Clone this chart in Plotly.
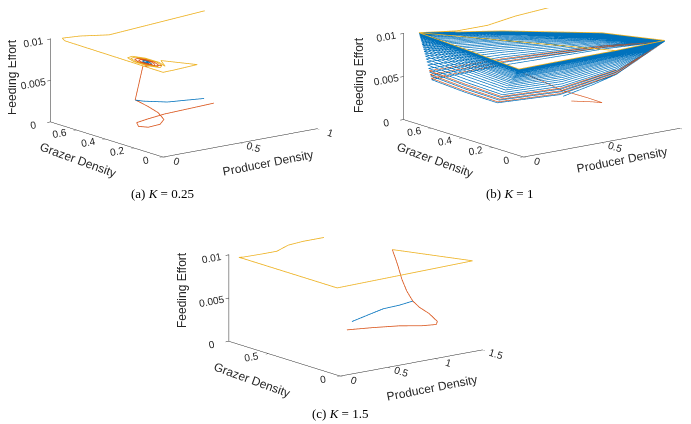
import plotly.graph_objects as go

BLUE = "#0072BD"
ORANGE = "#D95319"
YELLOW = "#EDB120"

# points are (producer, grazer, feeding effort)

# ---- (a) K = 0.25 ----
a_yellow = [(1.0, 0.78, 0.01), (0.65, 0.735, 0.01), (0.295, 0.689, 0.01), (0.16, 0.748, 0.01),
            (0.06, 0.764, 0.01), (0.035, 0.72, 0.01), (0.024, 0.026, 0.01), (0.1, 0.03, 0.01),
            (0.265, 0.046, 0.01), (0.224, 0.254, 0.0095)]
a_blue = [(0.5, 0.25, 0.004), (0.39, 0.248, 0.0042), (0.25, 0.237, 0.0045), (0.13, 0.277, 0.0048),
          (0.09, 0.29, 0.005), (0.14, 0.29, 0.0089)]
a_orange = [(0.75, 0.45, 0.0015), (0.598, 0.471, 0.0012), (0.463, 0.483, 0.001), (0.354, 0.481, 0.0008),
            (0.266, 0.468, 0.0007), (0.236, 0.423, 0.0006), (0.265, 0.386, 0.0006), (0.34, 0.385, 0.0007),
            (0.387, 0.408, 0.001), (0.366, 0.426, 0.0018), (0.296, 0.419, 0.0028), (0.193, 0.376, 0.004),
            (0.09, 0.29, 0.005), (0.14, 0.29, 0.0089)]
# damped cycle around the K = 0.25 equilibrium, outer ring first
a_ring = [(0.2208, 0.222), (0.2469, 0.2927), (0.2456, 0.3852), (0.2175, 0.4454),
          (0.1792, 0.438), (0.1531, 0.3673), (0.1544, 0.2748), (0.1825, 0.2146)]
a_loop1 = [(0.217, 0.240), (0.239, 0.299), (0.238, 0.376), (0.215, 0.426),
           (0.183, 0.420), (0.161, 0.361), (0.162, 0.284), (0.185, 0.234)]
a_loop2 = [(0.213, 0.2625), (0.229, 0.3067), (0.2285, 0.3645), (0.211, 0.402),
           (0.187, 0.3975), (0.171, 0.3567), (0.1715, 0.2955), (0.189, 0.2579)]
a_loop3 = [(0.2087, 0.285), (0.2196, 0.3145), (0.219, 0.353), (0.2073, 0.3781),
           (0.1913, 0.375), (0.1804, 0.3456), (0.181, 0.307), (0.1927, 0.2819)]
a_loop4 = [(0.2043, 0.3075), (0.2098, 0.3222), (0.2095, 0.3415), (0.2037, 0.354),
           (0.1957, 0.3525), (0.1902, 0.3378), (0.1905, 0.3185), (0.1963, 0.306), (0.2, 0.33)]
a_blob_effort = 0.009

# ---- (b) K = 1 ----
# corners of the outermost cycle and of the first (lowest) cycle
b_cycle_top = [(0.964, 0.06, 0.01), (0.81, 0.31, 0.01), (0.432, 0.577, 0.01), (0.073, 0.755, 0.01),
               (0.043, 0.403, 0.01), (0.005, 0.036, 0.01), (0.318, 0.042, 0.01), (0.635, 0.045, 0.01)]
b_cycle_low = [(0.964, 0.06, 0.0099), (0.822, 0.322, 0.008), (0.432, 0.577, 0.006), (0.073, 0.673, 0.005),
               (0.045, 0.43, 0.005), (0.005, 0.176, 0.0053), (0.342, 0.11, 0.0055), (0.718, 0.126, 0.0065)]
# where each successive cycle sits between the lowest (0) and the outermost (1)
b_blue_levels = [0.0, 0.08, 0.16, 0.24, 0.31, 0.38, 0.44, 0.5, 0.55, 0.6, 0.64, 0.68, 0.72, 0.75,
                 0.78, 0.81, 0.84, 0.865, 0.89, 0.91, 0.93, 0.945, 0.958, 0.97, 0.98, 0.988, 0.994]
b_orange_levels = [0.03, 0.11, 0.19]
b_yellow_levels = [1.0, 1.0]
b_yellow_in = [(1.0, 0.78, 0.01), (0.678, 0.74, 0.01), (0.445, 0.686, 0.01), (0.25, 0.687, 0.01)]
b_blue_in = [(0.5, 0.25, 0.004), (0.6, 0.16, 0.0055), (0.718, 0.126, 0.0065)]
b_orange_in = [(0.75, 0.45, 0.0015), (0.79, 0.355, 0.0018), (0.797, 0.298, 0.002), (0.746, 0.343, 0.0025),
               (0.627, 0.386, 0.0035), (0.552, 0.422, 0.0045)]

# ---- (c) K = 1.5 ----
c_yellow = [(1.0, 0.775, 0.01), (0.78, 0.775, 0.01), (0.6, 0.76, 0.01), (0.45, 0.74, 0.0097),
            (0.3, 0.74, 0.0097), (0.1, 0.745, 0.0097), (0.05, 0.74, 0.0098), (0.035, 0.7, 0.0099),
            (0.016, 0.032, 0.01), (1.49, 0.063, 0.01), (1.196, 0.428, 0.01)]
c_blue = [(0.5, 0.25, 0.004), (0.723, 0.288, 0.0041), (0.924, 0.312, 0.0043), (1.077, 0.297, 0.0045),
          (1.156, 0.259, 0.005), (1.108, 0.269, 0.0062), (1.088, 0.29, 0.0075), (1.128, 0.346, 0.0088),
          (1.196, 0.428, 0.01)]
c_orange = [(0.75, 0.45, 0.0015), (0.988, 0.427, 0.0014), (1.203, 0.383, 0.0014), (1.339, 0.313, 0.0015),
            (1.402, 0.258, 0.0018), (1.4, 0.249, 0.0022), (1.366, 0.283, 0.003), (1.251, 0.275, 0.004),
            (1.156, 0.259, 0.005), (1.108, 0.269, 0.0062), (1.088, 0.29, 0.0075), (1.128, 0.346, 0.0088),
            (1.196, 0.428, 0.01)]

captions = ["(a) <i>K</i> = 0.25", "(b) <i>K</i> = 1", "(c) <i>K</i> = 1.5"]
axis_titles = ["Producer Density", "Grazer Density", "Feeding Effort"]


def with_effort(pts, e):
    return [(p, g, e) for p, g in pts]


def cycles(levels, skip=0):
    pts = []
    for lv in levels:
        for lo, hi in zip(b_cycle_low, b_cycle_top):
            pts.append(tuple(l + lv * (h - l) for l, h in zip(lo, hi)))
    return pts[skip:]


def line(pts, color, scene, width=1.6):
    p, g, e = zip(*pts)
    return go.Scatter3d(x=p, y=g, z=e, mode="lines", scene=scene, showlegend=False,
                        hoverinfo="skip", line=dict(color=color, width=width))


blob = [with_effort(l, a_blob_effort) for l in (a_ring, a_loop1, a_loop2, a_loop3, a_loop4)]

fig = go.Figure()
fig.add_trace(line(a_blue + blob[1] + blob[2] + blob[3] + blob[4], BLUE, "scene"))
fig.add_trace(line(a_orange + blob[1] + blob[2] + blob[3], ORANGE, "scene"))
fig.add_trace(line(a_yellow + blob[0] + blob[1], YELLOW, "scene"))

fig.add_trace(line(b_blue_in + cycles(b_blue_levels), BLUE, "scene2", 1.4))
fig.add_trace(line(b_orange_in + cycles(b_orange_levels, skip=2), ORANGE, "scene2", 1.3))
fig.add_trace(line(b_yellow_in + cycles(b_yellow_levels, skip=3) + [b_cycle_top[3]], YELLOW, "scene2"))

fig.add_trace(line(c_blue, BLUE, "scene3"))
fig.add_trace(line(c_orange, ORANGE, "scene3"))
fig.add_trace(line(c_yellow, YELLOW, "scene3"))

AX = "#262626"


def axis(rng, vals, text=None):
    return dict(title=dict(text=""), range=rng, tickvals=vals,
                ticktext=text or [f"{v:g}" for v in vals],
                tickfont=dict(family="Liberation Sans", size=11, color=AX),
                showgrid=False, showbackground=False, zeroline=False, showspikes=False,
                showline=True, linecolor=AX, linewidth=1, ticks="outside", ticklen=4, tickcolor=AX)


def scene(dom_x, dom_y, pmax, pticks, gmax, gticks, aspect, shift):
    eye = (-0.609 * 2, -0.793 * 2, 0.247 * 2)
    return dict(domain=dict(x=dom_x, y=dom_y),
                xaxis=axis([0, pmax], pticks),
                yaxis=axis([0, gmax], gticks),
                zaxis=axis([0, 0.01005], [0, 0.005, 0.01], ["0", "0.005", "0.01"]),
                aspectmode="manual", aspectratio=dict(x=aspect[0], y=aspect[1], z=aspect[2]),
                camera=dict(eye=dict(x=eye[0] + shift[0], y=eye[1] + shift[1], z=eye[2] + shift[2]),
                            center=dict(x=shift[0], y=shift[1], z=shift[2]), up=dict(x=0, y=0, z=1),
                            projection=dict(type="orthographic")))


fig.update_layout(
    width=691, height=424, paper_bgcolor="white", plot_bgcolor="white",
    margin=dict(l=0, r=0, t=0, b=0),
    scene=scene([0.0, 0.5], [0.61, 1.0], 1.003, [0, 0.5, 1], 0.782, [0, 0.2, 0.4, 0.6],
                (2.36, 2.24, 1.04), (-0.041, 0.006, -0.081)),
    scene2=scene([0.5, 1.0], [0.61, 1.0], 1.003, [0, 0.5, 1], 0.782, [0, 0.2, 0.4, 0.6],
                 (2.39, 2.39, 1.08), (-0.159, 0.086, -0.116)),
    scene3=scene([0.2, 0.8], [0.1, 0.47], 1.503, [0, 0.5, 1, 1.5], 0.777, [0, 0.5],
                 (2.29, 2.33, 1.14), (-0.041, -0.0045, -0.116)),
)

# the page puts the figure 8 px in from the top left corner
PAGE = 8


def label(text, x, y, angle, family="Liberation Sans", size=12, color=AX):
    fig.add_annotation(text=text, x=(x - PAGE) / 691, y=1 - (y - PAGE) / 424, xref="paper", yref="paper",
                       xanchor="center", yanchor="middle", textangle=angle, showarrow=False,
                       font=dict(family=family, size=size, color=color))


for text, x, y in zip(captions, [162, 510, 340], [193, 193, 413]):
    label(text, x, y, 0, "Liberation Serif", 13, "black")

# axis titles: producer, grazer, effort for each panel
title_pos = [[(268, 163), (78, 160), (12, 77)],
             [(622, 160), (435, 160), (359, 75)],
             [(432, 388), (252, 380), (182, 290)]]
for panel in title_pos:
    for text, (x, y), angle in zip(axis_titles, panel, [-11, 20, -90]):
        label(text, x, y, angle)

fig.write_html("out.html")
